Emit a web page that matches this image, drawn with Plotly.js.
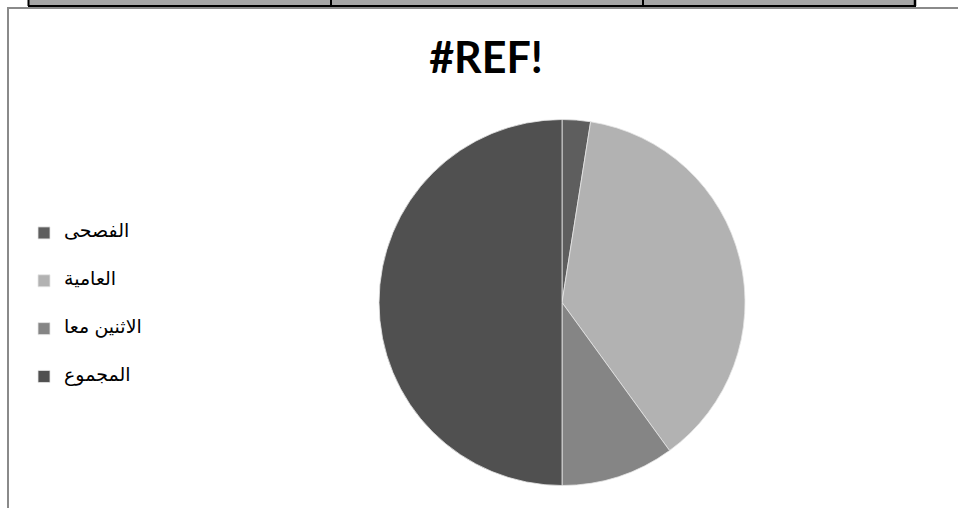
<!DOCTYPE html>
<html>
<head>
<meta charset="utf-8">
<script src="https://cdn.plot.ly/plotly-3.0.1.min.js"></script>
<style>html,body{margin:0;padding:0;background:#fff;}#chart{width:958px;height:508px;}</style>
</head>
<body>
<div id="chart"></div>
<script>
// Data
const categories = ['الفصحى', 'العامية', 'الاثنين معا', 'المجموع'];
const values = [1, 15, 4, 20];
const sliceColors = ['#5e5e5e', '#b2b2b2', '#858585', '#505050'];
const chartTitle = '#REF!';

const W = 958, H = 508;
const px = x => x / W;
const py = y => 1 - y / H;

// legend labels padded with blank lines to reproduce the wide vertical spacing
const legendLabels = categories.map(c => ' <br><span style="font-size:19px">' + c + '</span><br> ');

const trace = {
  type: 'pie',
  labels: legendLabels,
  values: values,
  sort: false,
  direction: 'clockwise',
  rotation: 0,
  textinfo: 'none',
  hoverinfo: 'none',
  marker: { colors: sliceColors, line: { color: '#e6e6e6', width: 0.8 } },
  domain: { x: [px(379), px(745)], y: [py(485.5), py(119.5)] }
};

const shapes = [
  // table strip at top
  { type: 'rect', xref: 'paper', yref: 'paper', x0: px(28), x1: px(915), y0: py(6), y1: py(-2), fillcolor: '#a6a6a6', line: { width: 0 } },
  { type: 'line', xref: 'paper', yref: 'paper', x0: px(28), x1: px(916), y0: py(6), y1: py(6), line: { color: '#000', width: 2 } },
  { type: 'line', xref: 'paper', yref: 'paper', x0: px(28.5), x1: px(28.5), y0: py(6), y1: py(-2), line: { color: '#000', width: 2 } },
  { type: 'line', xref: 'paper', yref: 'paper', x0: px(331), x1: px(331), y0: py(6), y1: py(-2), line: { color: '#000', width: 2 } },
  { type: 'line', xref: 'paper', yref: 'paper', x0: px(643), x1: px(643), y0: py(6), y1: py(-2), line: { color: '#000', width: 2 } },
  { type: 'line', xref: 'paper', yref: 'paper', x0: px(915), x1: px(915), y0: py(6), y1: py(-2), line: { color: '#000', width: 2.5 } },
  // chart frame
  { type: 'line', xref: 'paper', yref: 'paper', x0: px(7), x1: px(960), y0: py(8), y1: py(8), line: { color: '#8a8a8a', width: 2 } },
  { type: 'line', xref: 'paper', yref: 'paper', x0: px(8), x1: px(8), y0: py(7), y1: py(510), line: { color: '#8a8a8a', width: 2 } }
];

const layout = {
  width: W, height: H,
  margin: { l: 0, r: 0, t: 0, b: 0, pad: 0 },
  paper_bgcolor: '#ffffff',
  plot_bgcolor: '#ffffff',
  title: {
    text: '<b>' + chartTitle + '</b>',
    font: { family: 'Lato, "Open Sans", sans-serif', size: 43, color: '#000' },
    x: px(486), xanchor: 'center', xref: 'container',
    y: 1 - 58 / H, yanchor: 'middle', yref: 'container'
  },
  showlegend: true,
  legend: {
    x: px(24), xanchor: 'left',
    y: py(204), yanchor: 'top',
    bgcolor: 'rgba(0,0,0,0)',
    font: { family: 'Arial, "Liberation Sans", "DejaVu Sans", sans-serif', size: 11.5, color: '#000' },
    tracegroupgap: 0
  },
  shapes: shapes
};

Plotly.newPlot('chart', [trace], layout, { displayModeBar: false, staticPlot: true });
</script>
</body>
</html>
